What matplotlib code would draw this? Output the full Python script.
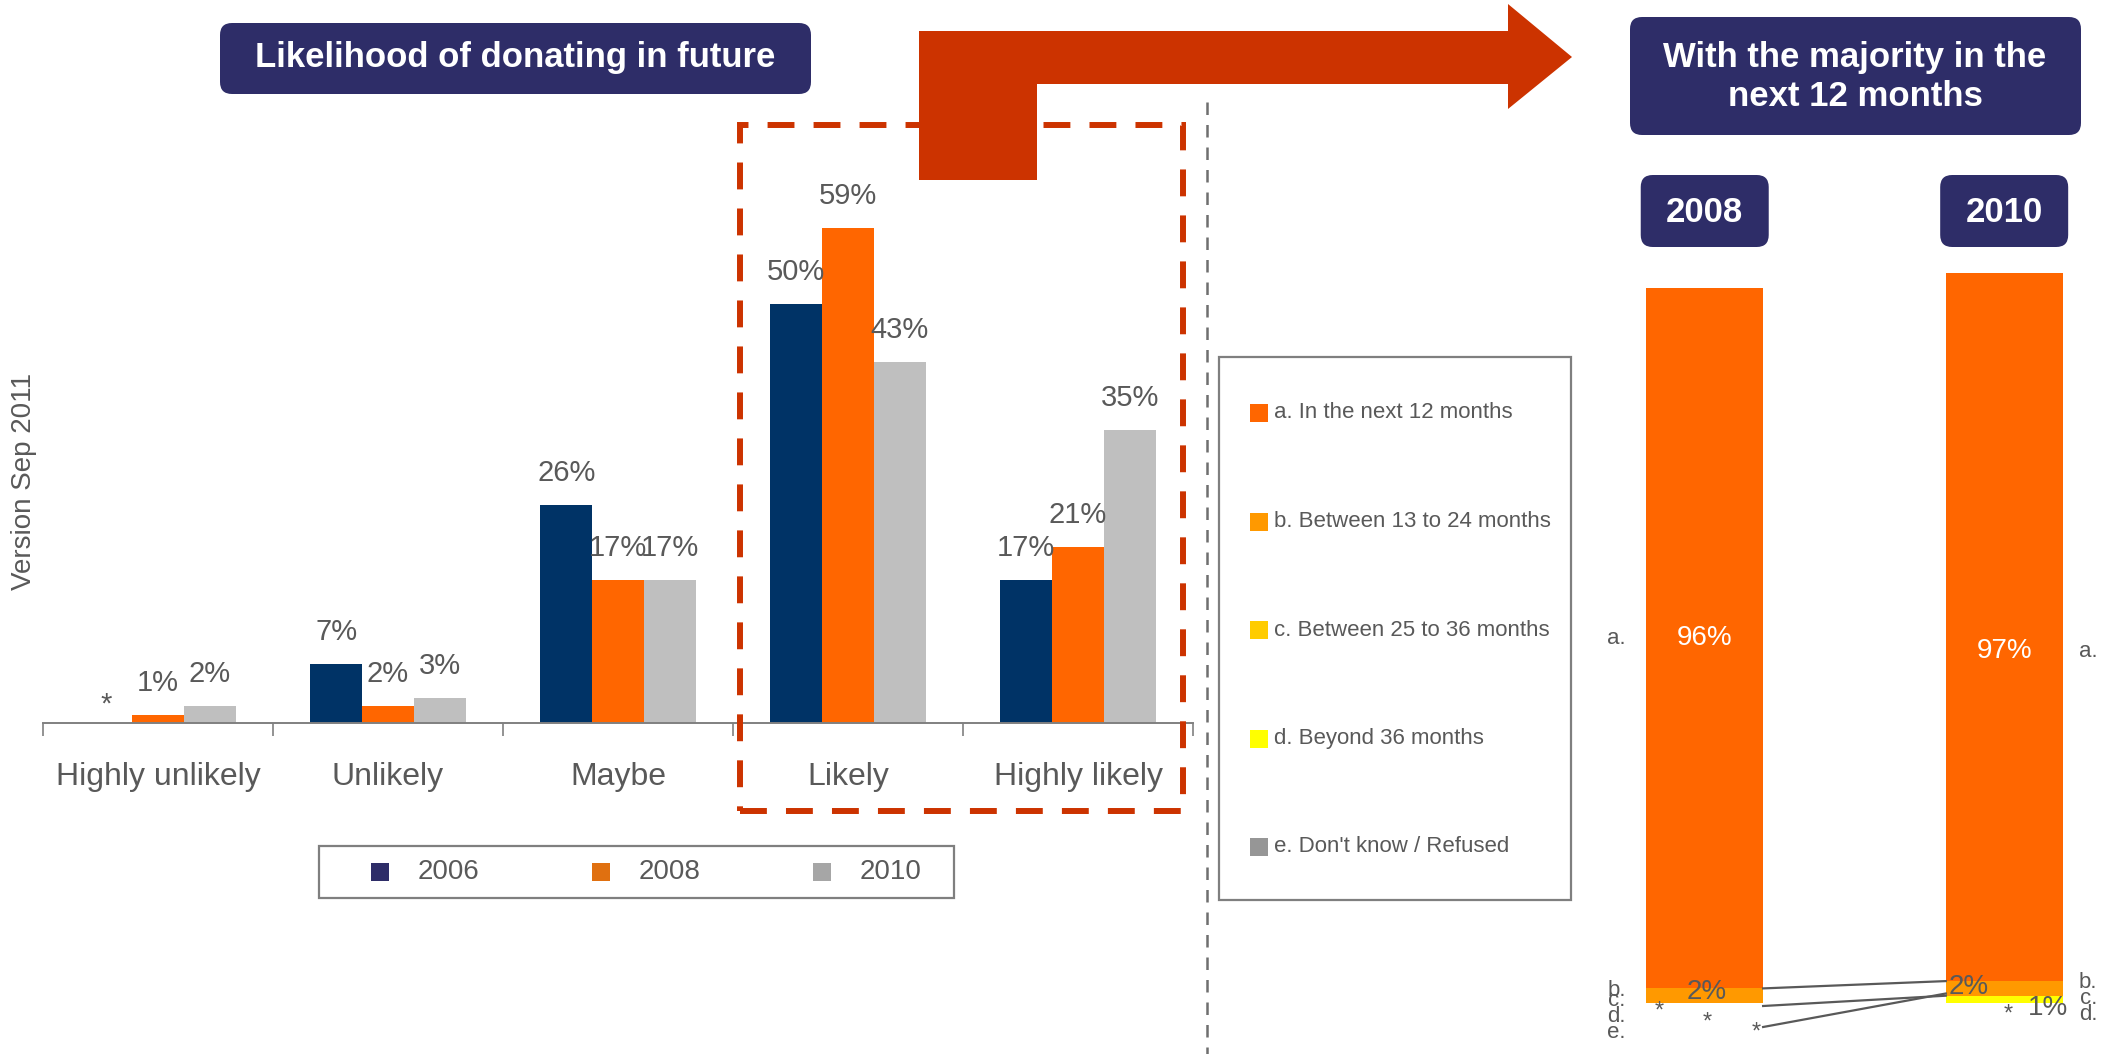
import matplotlib
matplotlib.use("Agg")
import matplotlib.pyplot as plt
import numpy as np
from matplotlib.lines import Line2D
from matplotlib.patches import FancyBboxPatch, Polygon, Rectangle
from matplotlib.transforms import IdentityTransform

plt.rcParams["font.family"] = ["Liberation Sans", "DejaVu Sans"]

# left chart: likelihood of donating in future
categories = ["Highly unlikely", "Unlikely", "Maybe", "Likely", "Highly likely"]
years = ["2006", "2008", "2010"]
values_2006 = [0, 7, 26, 50, 17]
values_2008 = [1, 2, 17, 59, 21]
values_2010 = [2, 3, 17, 43, 35]
labels_2006 = ["*", "7%", "26%", "50%", "17%"]
labels_2008 = ["1%", "2%", "17%", "59%", "21%"]
labels_2010 = ["2%", "3%", "17%", "43%", "35%"]

# right chart: when the donation is expected
timing_years = ["2008", "2010"]
timing_names = [
    "a. In the next 12 months",
    "b. Between 13 to 24 months",
    "c. Between 25 to 36 months",
    "d. Beyond 36 months",
    "e. Don't know / Refused",
]
timing_short = ["a.", "b.", "c.", "d.", "e."]
timing_2008 = [96, 2, 0, 0, 0]
timing_2010 = [97, 2, 0, 1, 0]
timing_labels_2008 = ["96%", "2%", "*", "*", "*"]
timing_labels_2010 = ["97%", "2%", "*", "1%", ""]

W, H = 2112, 1054
GREY = "#595959"
NAVY_BOX = "#2E2D68"
RED = "#CC3300"
bar_colors = ["#003366", "#FF6600", "#BFBFBF"]
legend_colors = ["#2E2D68", "#E07010", "#A6A6A6"]
timing_colors = ["#FF6600", "#FF9900", "#FFCC00", "#FFFF00", "#969696"]


def fx(x):
    return x / W


def fy(y):
    return 1 - y / H


def px_box(x0, y0, x1, y1, color, rounding=12):
    # pixel coordinates measured from the top-left corner
    return FancyBboxPatch(
        (x0, H - y1), x1 - x0, y1 - y0,
        boxstyle=f"round,pad=0,rounding_size={rounding}",
        transform=IdentityTransform(), facecolor=color, edgecolor="none",
    )


fig = plt.figure(figsize=(W / 100, H / 100), dpi=100)

# ---------------- grouped bars ----------------
ax = fig.add_axes([fx(43), fy(723), (1193 - 43) / W, 587 / H])
x = np.arange(len(categories))
width = 0.225
series = [
    (values_2006, labels_2006),
    (values_2008, labels_2008),
    (values_2010, labels_2010),
]
for k, (vals, labs) in enumerate(series):
    xs = x + (k - 1) * width
    ax.bar(xs, vals, width, color=bar_colors[k], linewidth=0)
    for xi, v, lab in zip(xs, vals, labs):
        dy = 13 if lab == "*" else 23
        ax.annotate(lab, (xi, v), xytext=(0, dy), textcoords="offset points",
                    ha="center", va="center", fontsize=21, color=GREY)

ax.set_xlim(-0.5, len(categories) - 0.5)
ax.set_ylim(0, 70)
for side in ["left", "top", "right"]:
    ax.spines[side].set_visible(False)
ax.spines["bottom"].set_color("#808080")
ax.spines["bottom"].set_linewidth(1.4)
ax.set_yticks([])
ax.set_xticks(x, categories)
ax.tick_params(axis="x", length=0, pad=28, labelsize=23, labelcolor=GREY)
ax.set_xticks(np.arange(-0.5, len(categories)), minor=True)
ax.tick_params(axis="x", which="minor", length=9.5, width=1.2, color="#808080")
ax.patch.set_alpha(0)

fig.text(fx(24), fy(481), "Version Sep 2011", rotation=90, ha="center",
         va="center", fontsize=20, color=GREY)

# legend for the grouped bars
fig.add_artist(Rectangle((fx(319), fy(898)), (954 - 319) / W, 52 / H,
                         transform=fig.transFigure, fill=False,
                         edgecolor="#7F7F7F", linewidth=1.6))
for k, yr in enumerate(years):
    mx = 380 + k * 221
    fig.add_artist(Rectangle((fx(mx - 9), fy(881)), 18 / W, 18 / H,
                             transform=fig.transFigure, color=legend_colors[k],
                             linewidth=0))
    fig.text(fx(mx + 38), fy(872), yr, ha="left", va="center",
             fontsize=20, color=GREY)

# highlight around Likely / Highly likely
fig.add_artist(Rectangle((fx(740), fy(811)), (1183 - 740) / W, (811 - 125) / H,
                         transform=fig.transFigure, fill=False, edgecolor=RED,
                         linewidth=4.3, linestyle=(0, (4.5, 3.2))))

# dividing line
fig.add_artist(Line2D([fx(1207), fx(1207)], [fy(102), 0], color="#6F6F6F",
                      linewidth=1.8, linestyle=(0, (5, 4))))

# bent arrow
arrow_px = [(919, 180), (919, 31), (1508, 31), (1508, 4), (1572, 57),
            (1508, 109), (1508, 84), (1037, 84), (1037, 180)]
fig.add_artist(Polygon([(fx(a), fy(b)) for a, b in arrow_px], closed=True,
                       transform=fig.transFigure, facecolor=RED,
                       edgecolor="none"))

# title boxes
fig.add_artist(px_box(220, 23, 811, 94, NAVY_BOX))
fig.text(fx(515), fy(58), "Likelihood of donating in future", ha="center",
         va="center", fontsize=25, fontweight="bold", color="white")
fig.add_artist(px_box(1630, 17, 2081, 135, NAVY_BOX))
fig.text(fx(1855), fy(77), "With the majority in the\nnext 12 months",
         ha="center", va="center", fontsize=25, fontweight="bold",
         color="white", linespacing=1.2)

# ---------------- stacked bars ----------------
ax2 = fig.add_axes([fx(1555), fy(1003), (2109 - 1555) / W, 730 / H])
ax2.set_xlim(-0.5, 1.35)
ax2.set_ylim(0, 100)
ax2.axis("off")
bw = 0.39
timing = np.array([timing_2008, timing_2010], dtype=float)
timing_labels = [timing_labels_2008, timing_labels_2010]
pos = np.arange(len(timing_years))
cum = np.zeros(len(timing_years))
bottoms = np.zeros_like(timing)
for j in reversed(range(len(timing_names))):
    bottoms[:, j] = cum
    ax2.bar(pos, timing[:, j], bw, bottom=cum, color=timing_colors[j],
            linewidth=0)
    cum = cum + timing[:, j]

# offsets (pixels) for the segment labels
label_offsets = {
    (0, 0): (0, 0), (1, 0): (0, -24),
    (0, 1): (2, 4), (0, 2): (-46, -9), (0, 3): (2, -20), (0, 4): (51, -30),
    (1, 1): (-36, 1), (1, 2): (4, -19), (1, 3): (44, -9),
}
for i in pos:
    for j in range(len(timing_names)):
        lab = timing_labels[i][j]
        if not lab:
            continue
        yc = bottoms[i, j] + timing[i, j] / 2
        ox, oy = label_offsets[(i, j)]
        if j == 0:
            color, size = "white", 20
        else:
            color, size = GREY, (20 if "%" in lab else 17)
        ax2.annotate(lab, (i, yc), xytext=(ox * 0.72, oy * 0.72),
                     textcoords="offset points", ha="center", va="center",
                     fontsize=size, color=color, annotation_clip=False)

# category letters beside the bars
row_offsets = {0: [13, 3, -13, -30], 1: [21, 5, -11, -27]}
side_dx = {0: -88, 1: 84}
for i in pos:
    for j, letter in enumerate(timing_short):
        if not timing_labels[i][j]:
            continue
        if j == 0:
            xy = (i, bottoms[i, 0] + timing[i, 0] / 2)
            dy = label_offsets[(i, 0)][1]
        else:
            xy = (i, 0)
            dy = row_offsets[i][j - 1]
        ax2.annotate(letter, xy, xytext=(side_dx[i] * 0.72, dy * 0.72),
                     textcoords="offset points", ha="center", va="center",
                     fontsize=16, color=GREY, annotation_clip=False)

# series lines between the two bars
px_per_unit = 730 / 100
line_ends = [
    (bottoms[0, 0], bottoms[1, 0]),
    (-3 / px_per_unit, bottoms[1, 1]),
    (-24 / px_per_unit, bottoms[1, 2] - bottoms[1, 3] + 0.3),
]
for y0, y1 in line_ends:
    ax2.plot([pos[0] + bw / 2, pos[1] - bw / 2], [y0, y1], color=GREY,
             linewidth=1.6, clip_on=False)

# year boxes above the stacked bars
fig.canvas.draw()
for i, yr in enumerate(timing_years):
    cx = ax2.transData.transform((i, 0))[0]
    fig.add_artist(px_box(cx - 64, 175, cx + 64, 247, NAVY_BOX))
    fig.text(cx / W, fy(212), yr, ha="center", va="center", fontsize=25,
             fontweight="bold", color="white")

# legend for the stacked bars
fig.add_artist(Rectangle((fx(1219), fy(900)), (1571 - 1219) / W, (900 - 357) / H,
                         transform=fig.transFigure, fill=False,
                         edgecolor="#7F7F7F", linewidth=1.6))
for j, name in enumerate(timing_names):
    yc = 413 + j * 108.5
    fig.add_artist(Rectangle((fx(1250), fy(yc + 9)), 18 / W, 18 / H,
                             transform=fig.transFigure,
                             color=timing_colors[j], linewidth=0))
    fig.text(fx(1274), fy(yc), name, ha="left", va="center", fontsize=16,
             color=GREY)

fig.savefig("out.png", dpi=100, facecolor="white")
